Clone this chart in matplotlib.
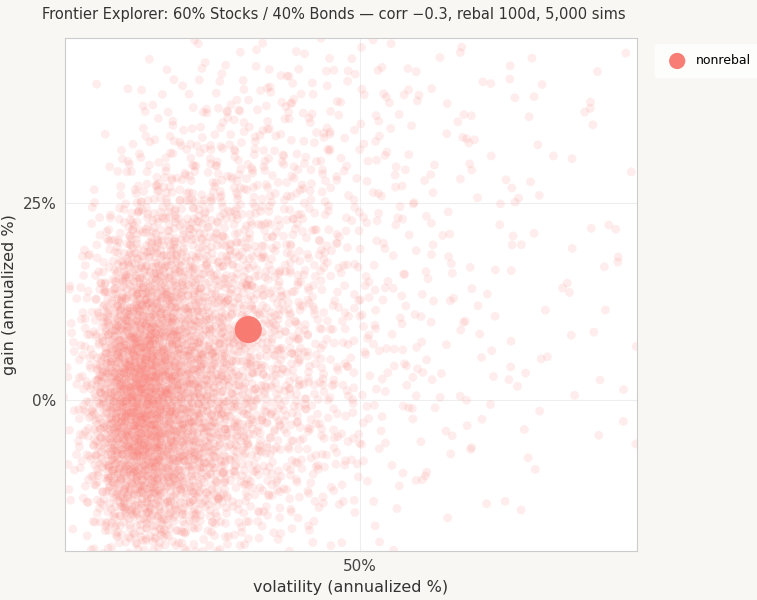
import numpy as np
import matplotlib.pyplot as plt

# density: point counts per 5% x 5% cell
x_centers = [18, 21, 25, 30, 35, 40, 45, 50, 55, 60, 65, 70, 75, 80, 85]
y_centers = [-17.5, -12.5, -7.5, -2.5, 2.5, 7.5, 12.5, 17.5, 22.5, 27.5, 32.5, 37.5, 42.5]
counts = [
    [10, 35, 40, 25, 12, 8, 4, 2, 1, 0, 0, 0, 0, 0, 0],
    [30, 100, 100, 60, 30, 20, 10, 6, 3, 2, 1, 1, 0, 0, 0],
    [50, 160, 150, 90, 50, 30, 15, 8, 5, 3, 2, 1, 1, 1, 0],
    [60, 190, 170, 110, 60, 35, 20, 10, 6, 4, 3, 2, 1, 1, 1],
    [60, 200, 170, 110, 60, 40, 22, 12, 7, 5, 3, 2, 2, 1, 1],
    [45, 160, 150, 100, 60, 40, 22, 12, 8, 5, 3, 2, 2, 1, 1],
    [30, 110, 115, 80, 50, 35, 20, 12, 7, 5, 3, 2, 2, 1, 1],
    [12, 65, 75, 60, 40, 30, 18, 11, 7, 5, 3, 2, 2, 1, 1],
    [5, 30, 50, 45, 35, 25, 16, 10, 7, 5, 3, 2, 2, 1, 1],
    [2, 12, 25, 28, 25, 20, 14, 9, 6, 4, 3, 2, 2, 1, 1],
    [1, 5, 12, 18, 18, 15, 12, 8, 6, 4, 3, 2, 2, 1, 1],
    [0, 2, 6, 9, 12, 12, 10, 7, 5, 4, 3, 2, 2, 1, 1],
    [0, 1, 3, 5, 7, 8, 7, 6, 4, 3, 3, 2, 2, 1, 1],
]
nonrebal_x = [35.8]
nonrebal_y = [9.0]

# spread each cell's points as a soft blob using a deterministic
# low-discrepancy sequence (R2) pushed through Box-Muller
g = 1.32471795724474602596
a1, a2 = 1 / g, 1 / g ** 2
xs, ys = [], []
k = 0
for j, yc in enumerate(y_centers):
    for i, xc in enumerate(x_centers):
        for n in range(counts[j][i]):
            k += 1
            u1 = (0.37 + a1 * k) % 1 * 0.98 + 0.01
            u2 = (0.61 + a2 * k) % 1
            r = np.sqrt(-2 * np.log(u1)) * 2.4
            xs.append(xc + r * np.cos(2 * np.pi * u2))
            ys.append(yc + r * np.sin(2 * np.pi * u2))

color = "#F8766D"
fig = plt.figure(figsize=(7.57, 6), dpi=100, facecolor="#F9F7F3")
ax = fig.add_axes([65 / 757, 49 / 600, 572 / 757, 513 / 600])
ax.set_facecolor("white")
ax.scatter(xs, ys, s=40, color=color, alpha=0.13, edgecolors="none")
ax.scatter(nonrebal_x, nonrebal_y, s=380, color=color, alpha=0.95,
           edgecolors="none", label="nonrebal")
ax.set_xlim(12.5, 85.2)
ax.set_ylim(-19.1, 46)
ax.set_xticks([50])
ax.set_xticklabels(["50%"])
ax.set_yticks([0, 25])
ax.set_yticklabels(["0%", "25%"])
ax.grid(color="#EEEEEE", linewidth=0.8)
ax.set_axisbelow(True)
for sp in ax.spines.values():
    sp.set_color("#CCCCCC")
ax.tick_params(length=0, labelsize=11, colors="#444444", pad=6)
ax.set_xlabel("volatility (annualized %)", fontsize=11.5, color="#333333")
ax.set_ylabel("gain (annualized %)", fontsize=11.5, color="#333333", labelpad=4)
ax.set_title("Frontier Explorer: 60% Stocks / 40% Bonds — corr −0.3, rebal 100d, 5,000 sims",
             fontsize=10.5, color="#333333", x=0.47, pad=14)
leg = ax.legend(loc="upper left", bbox_to_anchor=(1.02, 1.0), frameon=True,
                fontsize=9, markerscale=0.6, handletextpad=0.5, borderpad=0.8)
leg.get_frame().set_facecolor("white")
leg.get_frame().set_edgecolor("white")
fig.savefig("out.png", dpi=100, facecolor=fig.get_facecolor())
